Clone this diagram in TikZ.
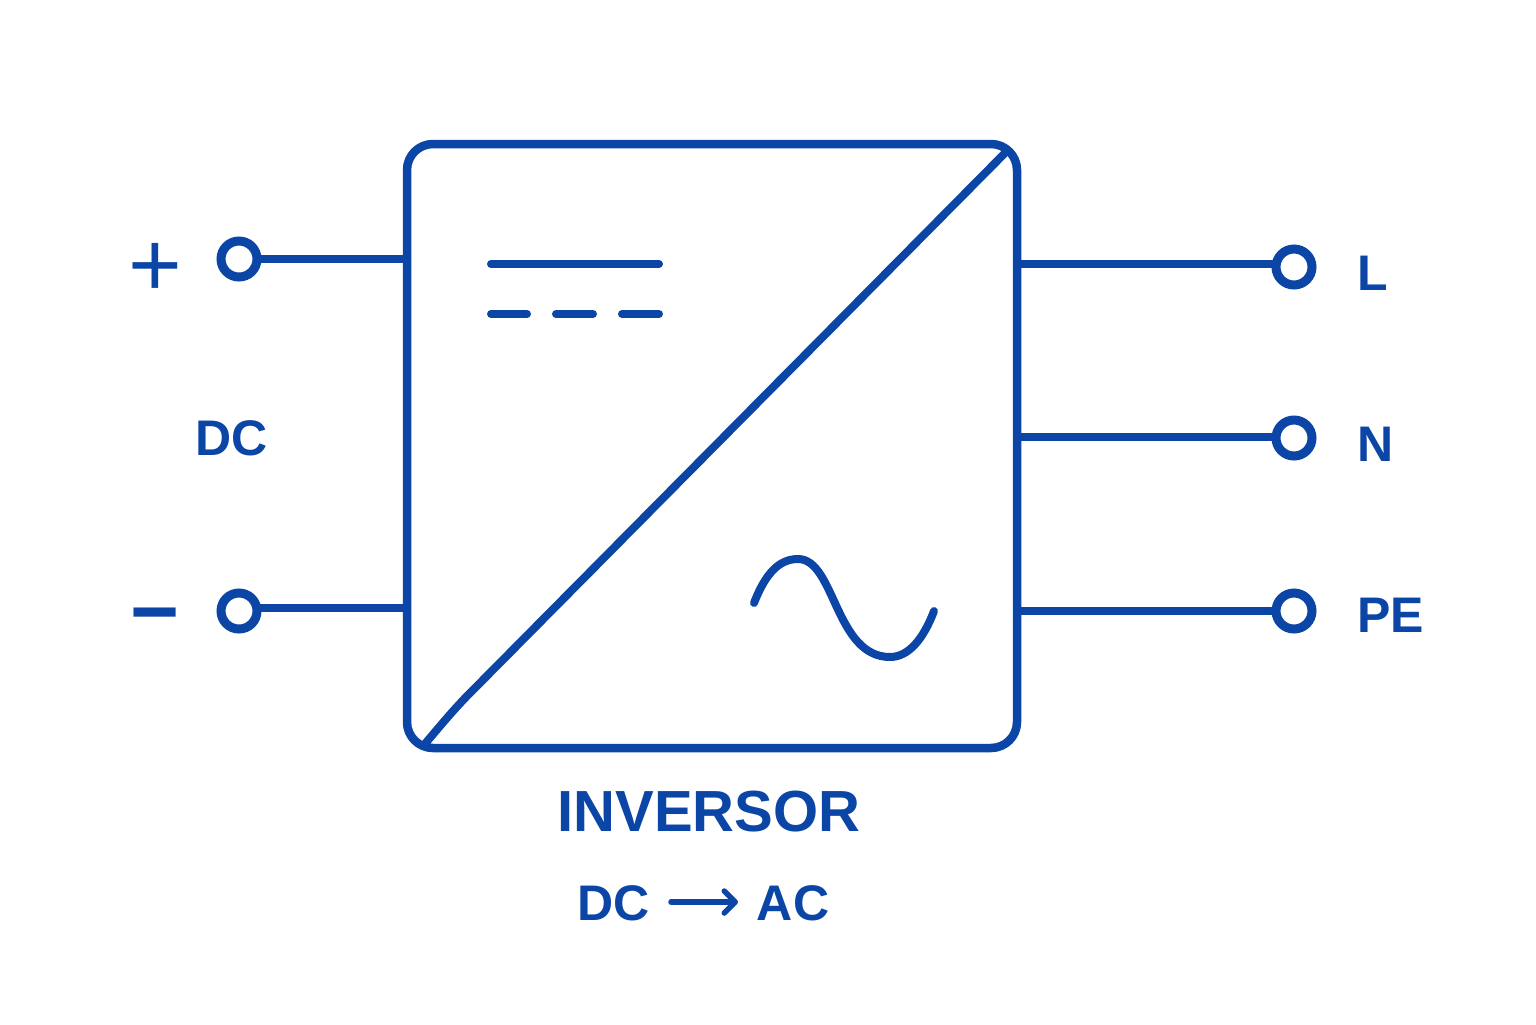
\documentclass[tikz,border=0pt]{standalone}
\usepackage{fontspec}
\setmainfont{Liberation Sans}
\usetikzlibrary{arrows.meta}
\definecolor{inkblue}{HTML}{0B45A6}
\tikzset{
	every node/.style={text=inkblue,inner sep=0pt,outer sep=0pt},
	wire/.style={draw=inkblue,line width=4pt},
	terminal/.style={circle,draw=inkblue,line width=4.5pt,fill=white,minimum size=18pt},
	portlabel/.style={anchor=base west,font=\bfseries\fontsize{25}{25}\selectfont},
	sidelabel/.style={anchor=base,font=\bfseries\fontsize{25}{25}\selectfont},
	signlabel/.style={anchor=center,font=\fontsize{46}{46}\selectfont},
}
\begin{document}
\begin{tikzpicture}[x=0.5pt,y=-0.5pt]
	\useasboundingbox (0,0) rectangle (1536,1024);

	% inverter box...................
	\node [draw=inkblue,line width=4.25pt,rounded corners=13pt,minimum width=305pt,minimum height=302pt] (box) at (712,446) {};

	% diagonal.......................
	\coordinate (diagstart) at (424,745);
	\coordinate (diagmid) at (470,693);
	\coordinate (diagend) at (1005,153);
	\draw [wire] (diagstart) .. controls (440,726) and (455,708) .. (diagmid) -- (diagend);

	% DC symbol......................
	\coordinate (solidleft) at (491,264);
	\coordinate (solidright) at (659,264);
	\draw [wire,line cap=round] (solidleft) -- (solidright);
	\foreach \xa/\xb in {491/527,556/593,622/659}
		\draw [wire,line cap=round] (\xa,314) -- (\xb,314);

	% AC symbol......................
	\draw [wire,line cap=round] (754,603) .. controls (766,572) and (780,559) .. (798,559)
		.. controls (835,559) and (835,657) .. (890,657)
		.. controls (908,657) and (923,640) .. (934,611);

	% DC side........................
	\node [terminal] (plusterm) at (239,259) {};
	\node [terminal] (minusterm) at (239,611) {};
	\coordinate (plusin) at (407,259);
	\coordinate (minusin) at (407,608);
	\draw [wire] (plusterm) -- (plusin);
	\draw [wire] (minusin) -- (minusin -| minusterm.east);
	\node [signlabel] (plussign) at (155,270) {+};
	\node [signlabel,font=\bfseries\fontsize{42}{42}\selectfont] (minussign) at (155,624) {−};
	\node [sidelabel] (dcside) at (232,455) {DC};

	% AC side........................
	\node [terminal] (lterm) at (1294,267) {};
	\node [terminal] (nterm) at (1294,438) {};
	\node [terminal] (peterm) at (1294,611) {};
	\coordinate (lout) at (1017,264);
	\coordinate (nout) at (1017,437);
	\coordinate (peout) at (1017,611);
	\draw [wire] (lout) -- (lout -| lterm.west);
	\draw [wire] (nout) -- (nout -| nterm.west);
	\draw [wire] (peout) -- (peterm);
	\node [portlabel] (llabel) at (1357,290) {L};
	\node [portlabel] (nlabel) at (1357,461) {N};
	\node [portlabel] (pelabel) at (1357,632) {PE};

	% caption........................
	\node [anchor=base,font=\bfseries\fontsize{29}{29}\selectfont] (title) at (709,831) {INVERSOR};
	\node [sidelabel] (dcword) at (614,920) {DC};
	\node [sidelabel] (acword) at (793,920) {AC};
	\coordinate (arrowstart) at (671,902);
	\coordinate (arrowend) at (738,902);
	\draw [draw=inkblue,line width=2.75pt,line cap=round,-{Straight Barb[length=5.5pt,width=11pt,line width=2.75pt,round]}] (arrowstart) -- (arrowend);
\end{tikzpicture}
\end{document}
